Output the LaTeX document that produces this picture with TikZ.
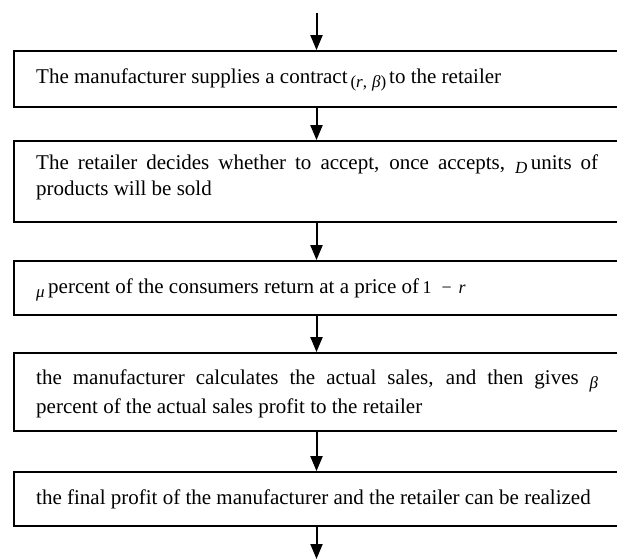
\documentclass[tikz,border=0pt]{standalone}
\usepackage{fontspec}
\setmainfont{Liberation Serif}
\usetikzlibrary{arrows.meta}
\newcommand\mth[1]{{\fontsize{17}{17}\selectfont\itshape #1}}
\newcommand\low[1]{\raisebox{-4pt}{#1}}
\newcommand\bodyfont[1]{\fontsize{21}{#1}\selectfont}
\begin{document}
\begin{tikzpicture}[x=1pt,y=-1pt,
  box/.style={draw, line width=1.8pt, rectangle, inner sep=0pt, minimum width=605pt},
  txt/.style={anchor=base west, inner sep=0pt},
  arr/.style={line width=2pt, -{Triangle[width=12pt,length=15pt]}}]
\useasboundingbox (0,0) rectangle (617,559);
\clip (0,0) rectangle (617,559);
\fill[white] (0,0) rectangle (617,559);
% boxes
\node[box, minimum height=56pt] (b1) at (316.5,79) {};
\node[box, minimum height=81pt] (b2) at (316.5,181.5) {};
\node[box, minimum height=54pt] (b3) at (316.5,288) {};
\node[box, minimum height=78pt] (b4) at (316.5,392) {};
\node[box, minimum height=54pt] (b5) at (316.5,499) {};
% texts
\node[txt] (t1) at (36,84) {\parbox[t]{562pt}{\bodyfont{24}The manufacturer supplies a contract\hspace{3pt}\low{\mth{\upshape(}\mth{r}\mth{\upshape,}\hspace{5pt}\mth{β}\mth{\upshape)}}\hspace{3pt}to the retailer}};
\node[txt] (t2) at (36,169) {\parbox[t]{562pt}{\bodyfont{26}The retailer decides whether to accept, once accepts, \low{\mth{D}}\,units of\linebreak products will be sold}};
\node[txt] (t3) at (36,293) {\parbox[t]{562pt}{\bodyfont{24}\low{\mth{μ}}\,percent of the consumers return at a price of\,{\fontsize{18}{18}\selectfont 1\hspace{10pt}−\hspace{7pt}\itshape r}}};
\node[txt] (t4) at (36,384) {\parbox[t]{562pt}{\bodyfont{29}the manufacturer calculates the actual sales, and then gives \low{\mth{β}}\linebreak percent of the actual sales profit to the retailer}};
\node[txt] (t5) at (36,504) {\parbox[t]{562pt}{\bodyfont{24}the final profit of the manufacturer and the retailer can be realized}};
% connectors
\coordinate (top) at (316.5,13);
\coordinate (bot) at (316.5,559);
\draw[arr] (top) -- (b1.north);
\draw[arr] (b1.south) -- (b2.north);
\draw[arr] (b2.south) -- (b3.north);
\draw[arr] (b3.south) -- (b4.north);
\draw[arr] (b4.south) -- (b5.north);
\draw[arr] (b5.south) -- (bot);
\end{tikzpicture}
\end{document}
